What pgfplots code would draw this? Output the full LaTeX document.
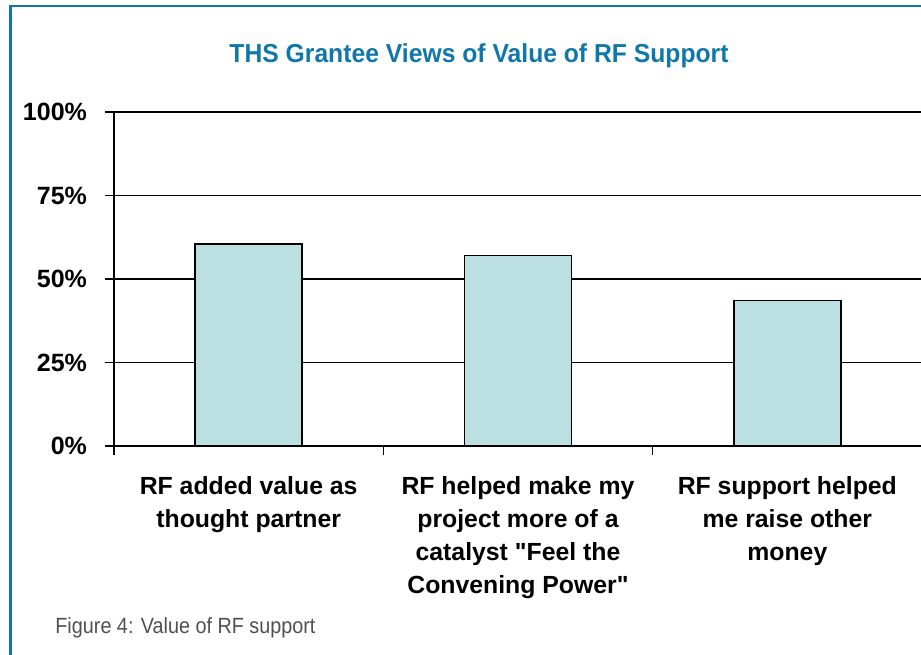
\documentclass[border=0pt]{standalone}
\usepackage{fontspec}
\setmainfont{Liberation Sans}
\newfontfamily\qfont{Liberation Sans}
\usepackage{graphicx}
\usepackage{pgfplots}
\pgfplotsset{compat=1.18}
\definecolor{frameblue}{RGB}{16,120,168}
\definecolor{barfill}{RGB}{188,224,226}
\definecolor{capgray}{RGB}{80,80,80}

\begin{document}
\begin{tikzpicture}
\path[use as bounding box] (-57pt,-104pt) rectangle (403.5pt,223pt);
\begin{axis}[
    scale only axis,
    width=404pt,
    height=167pt,
    xmin=0, xmax=3,
    ymin=0, ymax=100,
    axis lines*=left,
    axis line style={line width=1pt},
    ymajorgrids=true,
    grid style={black, line width=0.8pt},
    xtick={0,1,2,3},
    x tick label as interval,
    xticklabels={
        {RF added value as\\thought partner},
        {RF helped make my\\project more of a\\catalyst {\qfont"}Feel the\\Convening Power{\qfont"}},
        {RF support helped\\me raise other\\money}
    },
    ytick={0,25,50,75,100},
    yticklabels={0\%,25\%,50\%,75\%,100\%},
    tick align=outside,
    major tick length=4.5pt,
    tick style={black, line width=0.6pt},
    xticklabel style={align=center, font=\bfseries\fontsize{12.4}{16.5}\selectfont, yshift=-7pt},
    yticklabel style={font=\bfseries\fontsize{12.5}{14}\selectfont, xshift=-5.5pt},
]
\addplot[ybar, bar width=53.5pt, fill=barfill, draw=black, line width=0.7pt]
    coordinates {(0.5,60.5) (1.5,57) (2.5,43.5)};
\end{axis}
\node[anchor=base, text=frameblue, font=\bfseries\fontsize{13}{15}\selectfont]
    at (182.5pt,191.5pt) {\scalebox{0.95}[1]{THS Grantee Views of Value of RF Support}};
\node[anchor=base west, text=capgray, inner sep=0pt, font=\fontsize{11}{13}\selectfont]
    at (-29.5pt,-93.5pt) {\scalebox{0.9}[1]{Figure 4: Value of RF support}};
\draw[frameblue, line width=1.2pt] (-51.75pt,-110pt) -- (-51.75pt,220pt) -- (410pt,220pt);
\end{tikzpicture}
\end{document}
